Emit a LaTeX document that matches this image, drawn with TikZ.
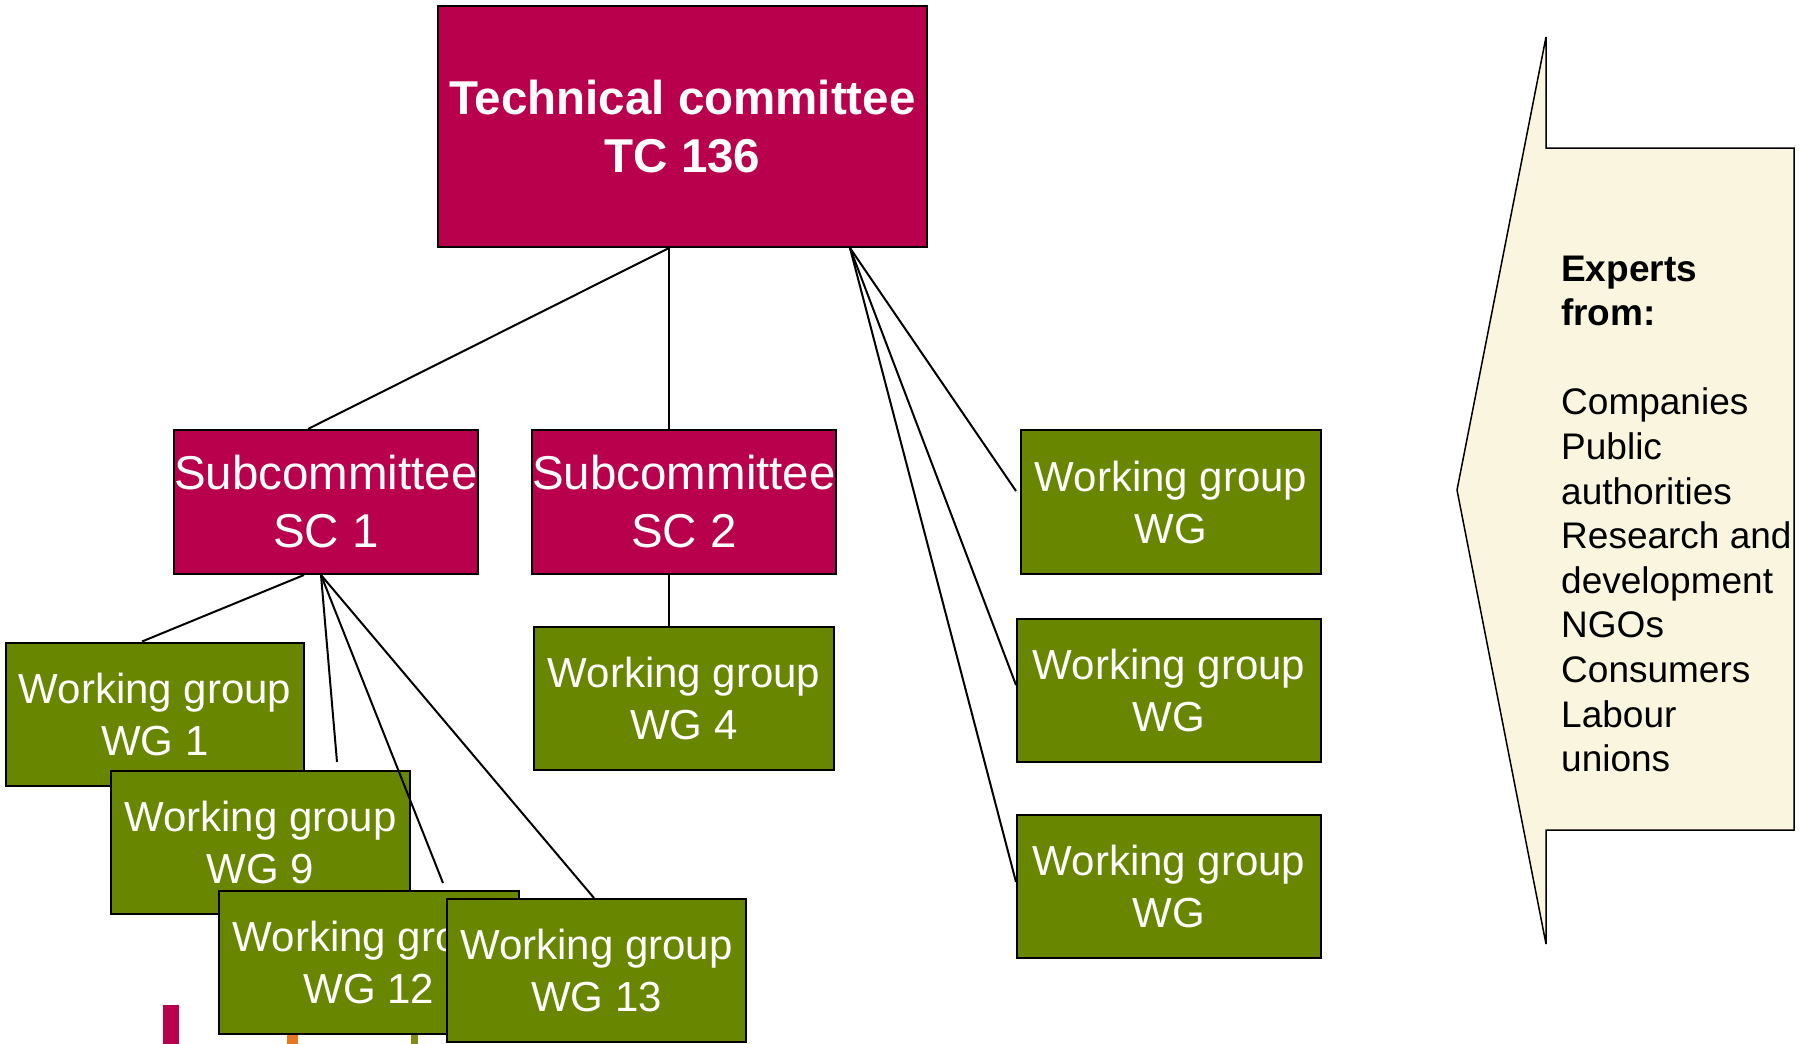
\documentclass[tikz,border=0pt]{standalone}
\usepackage{fontspec}
\setmainfont{Liberation Sans}
\definecolor{tcred}{RGB}{185,0,77}
\definecolor{wggreen}{RGB}{104,134,0}
\definecolor{cream}{RGB}{250,245,222}
\definecolor{barorange}{RGB}{232,119,34}
\definecolor{barolive}{RGB}{128,140,20}
\begin{document}
\begin{tikzpicture}[x=1pt,y=-1pt,
  box/.style={draw=black,line width=2pt,inner sep=0pt,align=center,text=white},
  redbox/.style={box,fill=tcred,font=\fontsize{47.5}{58}\selectfont},
  greenbox/.style={box,fill=wggreen,font=\fontsize{42}{52}\selectfont,minimum height=143pt},
  link/.style={draw=black,line width=2pt}]
\useasboundingbox (0,0) rectangle (1800,1044);

% decorative bars
\fill[tcred] (163,1005) rectangle (179,1044);
\fill[barorange] (287,1000) rectangle (298,1044);
\fill[barolive] (411,1000) rectangle (418,1044);

% committees
\node[redbox,minimum width=489pt,minimum height=241pt,font=\fontsize{47.5}{58}\selectfont\bfseries] (tc) at (682.5,126.5) {Technical committee\\TC 136};
\node[redbox,minimum width=300pt,minimum height=144pt] (sc1) at (326,502) {Subcommittee\\SC 1};
\node[redbox,minimum width=300pt,minimum height=144pt] (sc2) at (684,502) {Subcommittee\\SC 2};

% working groups
\node[greenbox,minimum width=300pt] (wg4) at (684,698.5) {Working group\\WG 4};
\node[greenbox,minimum width=298pt] (wg1) at (155,714) {Working group\\WG 1};
\node[greenbox,minimum width=299pt] (wg9) at (260.5,842) {Working group\\WG 9};
\node[greenbox,minimum width=300pt] (wg12) at (369,962.5) {Working group\\WG 12};
\node[greenbox,minimum width=299pt] (wg13) at (596.5,970.5) {Working group\\WG 13};
\node[greenbox,minimum width=300pt,minimum height=144pt] (wgr1) at (1171,502) {Working group\\WG};
\node[greenbox,minimum width=304pt] (wgr2) at (1169,690.5) {Working group\\WG};
\node[greenbox,minimum width=304pt] (wgr3) at (1169,886.5) {Working group\\WG};

% free ends
\coordinate (end9) at (337,762);
\coordinate (end12) at (443,883);

% connectors
\draw[link] ([xshift=-13.5pt]tc.south) -- ([xshift=-18pt]sc1.north);
\draw[link] ([xshift=-13.5pt]tc.south) -- ([xshift=-15pt]sc2.north);
\draw[link] ([xshift=167.5pt]tc.south) -- ([xshift=-4pt,yshift=11pt]wgr1.west);
\draw[link] ([xshift=167.5pt]tc.south) -- ([yshift=5.5pt]wgr2.west);
\draw[link] ([xshift=167.5pt]tc.south) -- ([yshift=4.5pt]wgr3.west);
\draw[link] ([xshift=-15pt]sc2.south) -- ([xshift=-15pt]wg4.north);
\draw[link] ([xshift=-22pt]sc1.south) -- ([xshift=-13pt]wg1.north);
\draw[link] ([xshift=-5pt]sc1.south) -- (end9);
\draw[link] ([xshift=-5pt]sc1.south) -- (end12);
\draw[link] ([xshift=-5pt]sc1.south) -- ([xshift=-2.5pt]wg13.north);

% experts callout
\draw[fill=cream,line width=1.5pt,line join=miter] (1457,490) -- (1546,37) -- (1546,148) -- (1794,148) -- (1794,830) -- (1546,830) -- (1546,944) -- cycle;
\node[anchor=north west,inner sep=0pt,align=left,font=\fontsize{37}{44.6}\selectfont] (experts) at (1561,255.5)
  {\textbf{Experts}\\\textbf{from:}\\[44.6pt]Companies\\Public\\authorities\\Research and\\development\\NGOs\\Consumers\\Labour\\unions};
\end{tikzpicture}
\end{document}
